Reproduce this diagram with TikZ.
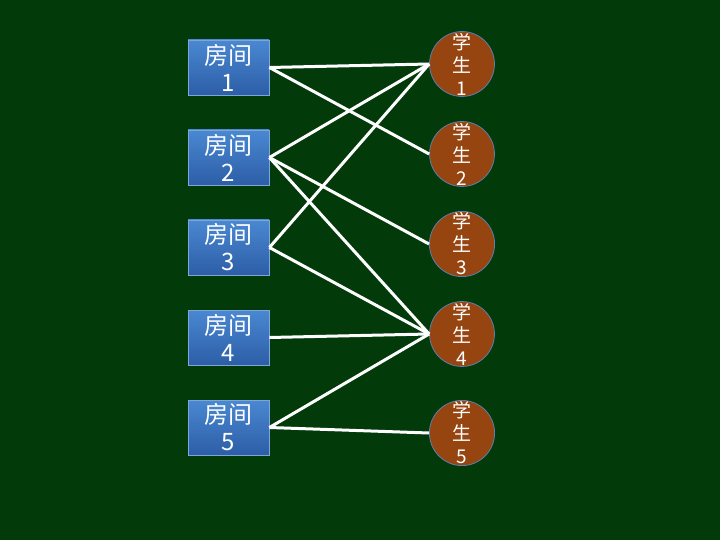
\documentclass[tikz,border=0pt]{standalone}
\usepackage{fontspec}
\usepackage{tikz}
\newfontfamily\cjk{Noto Sans CJK SC}
\definecolor{board}{HTML}{023A0A}
\definecolor{roomtop}{HTML}{4A88D2}
\definecolor{roombot}{HTML}{2C5EA6}
\definecolor{roomline}{HTML}{7FA6DA}
\definecolor{studfill}{HTML}{974510}
\definecolor{studline}{HTML}{5A7FB0}

\begin{document}
\begin{tikzpicture}[x=1pt, y=-1pt, node distance = 90pt,
    room/.style={draw=roomline, line width=0.8pt, top color=roomtop, bottom color=roombot,
        minimum width=81pt, minimum height=55pt, inner sep=0pt, align=center,
        text=white, font=\cjk\fontsize{24}{27}\selectfont},
    student/.style={circle, draw=studline, line width=0.8pt, fill=studfill,
        minimum size=63pt, inner sep=0pt, align=center,
        text=white, font=\cjk\fontsize{19}{23}\selectfont},
    link/.style={white, line width=3pt}]
            \fill[board] (0,0) rectangle (720,540);
            \useasboundingbox (0,0) rectangle (720,540);

            \node[room] (R1) at (228.5,67.5) {房间\\1};
            \node[room] (R2) [below of=R1] {房间\\2};
            \node[room] (R3) [below of=R2] {房间\\3};
            \node[room] (R4) [below of=R3] {房间\\4};
            \node[room] (R5) [below of=R4] {房间\\5};

            \node[student] (S1) at (462,64) {学\\生\\1};
            \node[student] (S2) [below of=S1] {学\\生\\2};
            \node[student] (S3) [below of=S2] {学\\生\\3};
            \node[student] (S4) [below of=S3] {学\\生\\4};
            \node[student] (S5) [below of=S4, node distance=99pt] {学\\生\\5};

            \draw[link] (R1.east) -- (S1.west);
            \draw[link] (R1.east) -- (S2.west);
            \draw[link] (R2.east) -- (S1.west);
            \draw[link] (R2.east) -- (S3.west);
            \draw[link] (R2.east) -- (S4.west);
            \draw[link] (R3.east) -- (S1.west);
            \draw[link] (R3.east) -- (S4.west);
            \draw[link] (R4.east) -- (S4.west);
            \draw[link] (R5.east) -- (S4.west);
            \draw[link] (R5.east) -- (S5.west);
        \end{tikzpicture}
\end{document}
